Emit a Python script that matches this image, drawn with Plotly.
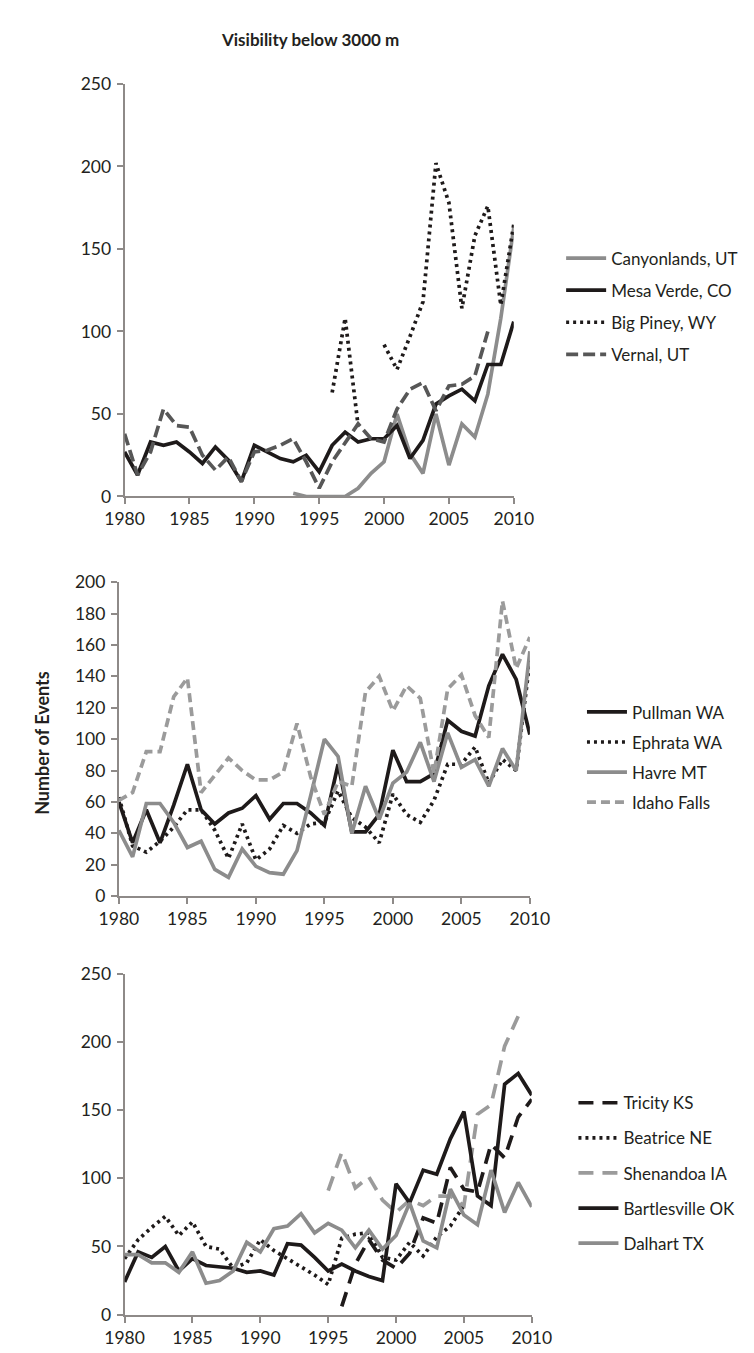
import plotly.graph_objects as go

years = list(range(1980, 2011))
N = None

# Panel 1
canyonlands = [N]*13 + [2, 0, 0, 0, 0, 5, 14, 21, 50, 26, 14, 50, 19, 44, 36, 62, 108, 163]
mesa_verde = [27, 13, 33, 31, 33, 27, 20, 30, 22, 9, 31, 27, 23, 21, 25, 15, 31, 39, 33, 35,
              35, 43, 23, 34, 56, 61, 65, 58, 80, 80, 106]
big_piney = [N]*16 + [63, 108, 43, N, 92, 77, 97, 118, 202, 178, 114, 158, 176, 116, 165]
vernal = [38, 13, 27, 53, 43, 42, 25, 16, 24, 9, 27, 28, 31, 35, 21, 5, 21, 33, 44, 35,
          33, 53, 65, 69, 52, 67, 68, 73, 100, N, N]

# Panel 2
pullman = [60, 34, 55, 34, 58, 84, 55, 46, 53, 56, 64, 49, 59, 59, 53, 45, 84, 41, 41, 52,
           93, 73, 73, 78, 112, 105, 102, 134, 154, 138, 103]
ephrata = [63, 32, 28, 35, 44, 55, 55, 42, 24, 46, 23, 30, 45, 40, 46, 47, 67, 50, 44, 34,
           65, 52, 47, 61, 84, 84, 95, 72, 87, 80, 150]
havre = [42, 25, 59, 59, 47, 31, 35, 17, 12, 30, 19, 15, 14, 29, 64, 100, 89, 40, 70, 49,
         72, 79, 98, 73, 104, 82, 87, 70, 94, 80, 156]
idaho_falls = [61, 66, 92, 92, 127, 139, 66, 77, 88, 80, 74, 74, 79, 110, 76, 52, 73, 70, 130, 140,
               118, 134, 126, 78, 132, 141, 115, 101, 188, 145, 165]

# Panel 3
tricity = [N]*16 + [6, 37, 55, 40, 34, 45, 71, 67, 108, 92, 90, 125, 115, 145, 158]
beatrice = [41, 55, 64, 72, 58, 68, 50, 48, 34, 38, 55, 47, 41, 35, 29, 22, 56, 59, 60, 42,
            40, 53, 43, 57, 65, 80, N, N, N, N, N]
shenandoa = [N]*15 + [91, 119, 93, 101, 84, 75, 84, 80, 87, 87, 80, 147, 154, 197, 219, N]
bartlesville = [24, 46, 42, 50, 32, 41, 36, 35, 34, 31, 32, 29, 52, 51, 42, 32, 37, 32, 28, 25,
                96, 82, 106, 103, 129, 149, 87, 80, 169, 177, 161]
dalhart = [44, 44, 38, 38, 31, 46, 23, 25, 32, 53, 46, 63, 65, 74, 60, 67, 62, 49, 62, 48,
           58, 82, 54, 49, 92, 73, 66, 106, 75, 97, 79]

x_ticks = [1980, 1985, 1990, 1995, 2000, 2005, 2010]
title_text = "Visibility below 3000 m"
y_title = "Number of Events"

BLACK = "#1e1a1a"
GRAY = "#8c8c8c"
DARKGRAY = "#575757"
LIGHTGRAY = "#9b9b9b"
TEXT = "#231f20"
AXIS = "#8e8a88"
FONT = "Lato"

W, H = 754, 1353

fig = go.Figure()

def add(name, y, color, dash, xa, ya, leg, width=3.7):
    fig.add_trace(go.Scatter(
        x=years, y=y, name=name, mode="lines",
        line=dict(color=color, width=width, dash=dash),
        xaxis=xa, yaxis=ya, legend=leg, legendgroup=name,
        connectgaps=False, cliponaxis=False, showlegend=True))

add("Canyonlands, UT", canyonlands, GRAY, "solid", "x", "y", "legend")
add("Mesa Verde, CO", mesa_verde, BLACK, "solid", "x", "y", "legend")
add("Big Piney, WY", big_piney, BLACK, "3px,4px", "x", "y", "legend")
add("Vernal, UT", vernal, DARKGRAY, "12px,5px", "x", "y", "legend")

add("Pullman WA", pullman, BLACK, "solid", "x2", "y2", "legend2")
add("Ephrata WA", ephrata, BLACK, "3px,4px", "x2", "y2", "legend2")
add("Havre MT", havre, GRAY, "solid", "x2", "y2", "legend2")
add("Idaho Falls", idaho_falls, LIGHTGRAY, "9px,5px", "x2", "y2", "legend2")

add("Tricity KS", tricity, BLACK, "15px,9px", "x3", "y3", "legend3")
add("Beatrice NE", beatrice, BLACK, "3px,4px", "x3", "y3", "legend3")
add("Shenandoa IA", shenandoa, LIGHTGRAY, "15px,9px", "x3", "y3", "legend3")
add("Bartlesville OK", bartlesville, BLACK, "solid", "x3", "y3", "legend3")
add("Dalhart TX", dalhart, GRAY, "solid", "x3", "y3", "legend3")

def xdom(a, b):
    return [a / W, b / W]

def ydom(top, bottom):
    return [1 - bottom / H, 1 - top / H]

axis_common = dict(showline=True, linecolor=AXIS, linewidth=2, ticks="outside",
                   tickcolor=AXIS, tickwidth=2, ticklen=6, showgrid=False, zeroline=False,
                   tickfont=dict(family=FONT, size=17.5, color=TEXT), layer="below traces")

xcommon = dict(axis_common, range=[1980, 2010], tickvals=x_ticks)

panels = [
    ("xaxis", "yaxis", "y", "x", xdom(102, 513), ydom(66, 485), [0, 250], 50),
    ("xaxis2", "yaxis2", "y2", "x2", xdom(96, 530), ydom(572, 891), [0, 200], 20),
    ("xaxis3", "yaxis3", "y3", "x3", xdom(102, 532), ydom(970, 1316), [0, 250], 50),
]
layout_axes = {}
for xa, ya, yanchor, xanchor, xd, yd, yr, dt in panels:
    layout_axes[xa] = dict(xcommon, domain=xd, anchor=yanchor)
    layout_axes[ya] = dict(axis_common, domain=yd, anchor=xanchor, range=yr, dtick=dt,
                           tick0=0, ticklabelstandoff=2)

legend_common = dict(font=dict(family=FONT, size=17, color=TEXT), bgcolor="rgba(0,0,0,0)",
                     xanchor="left", yanchor="top", itemwidth=40, traceorder="grouped")

fig.update_layout(
    width=W, height=H,
    margin=dict(l=0, r=0, t=0, b=0),
    paper_bgcolor="white", plot_bgcolor="white",
    font=dict(family=FONT, color=TEXT),
    legend=dict(legend_common, x=563 / W, y=1 - 225 / H, tracegroupgap=7),
    legend2=dict(legend_common, x=585 / W, y=1 - 686 / H, tracegroupgap=5),
    legend3=dict(legend_common, x=576 / W, y=1 - 1083 / H, tracegroupgap=10),
    annotations=[
        dict(text="<b>" + title_text + "</b>", x=298 / W, y=1 - 21 / H, xref="paper", yref="paper",
             showarrow=False, font=dict(family=FONT, size=17, color=TEXT),
             xanchor="center", yanchor="middle"),
        dict(text="<b>" + y_title + "</b>", x=14 / W, y=1 - 735 / H, xref="paper", yref="paper",
             showarrow=False, textangle=-90, font=dict(family=FONT, size=18, color=TEXT),
             xanchor="center", yanchor="middle"),
    ],
    **layout_axes,
)

fig.write_html("out.html")
